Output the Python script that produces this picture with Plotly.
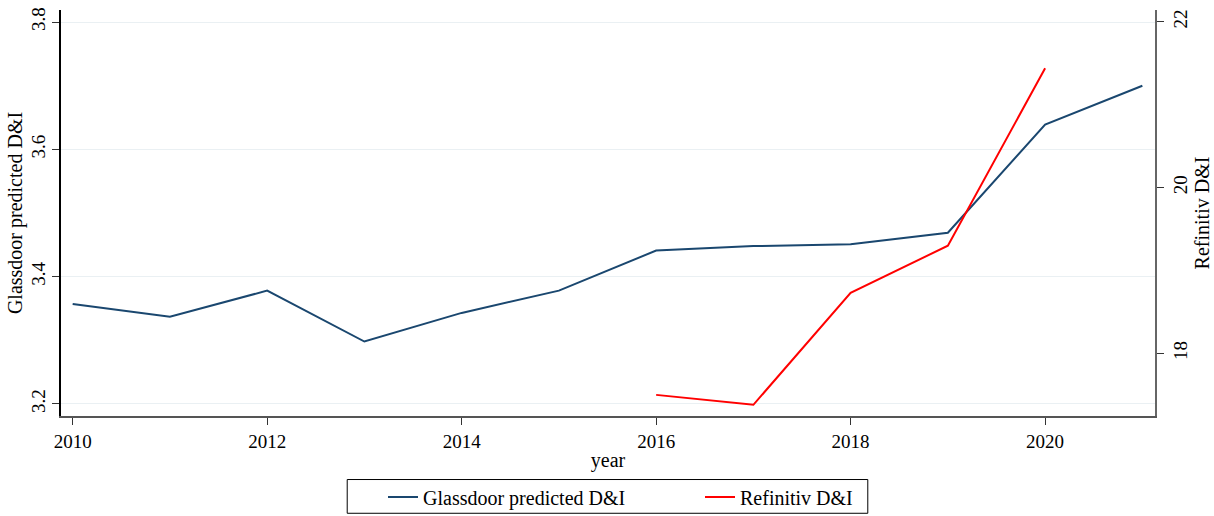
import plotly.graph_objects as go

years = [2010, 2011, 2012, 2013, 2014, 2015, 2016, 2017, 2018, 2019, 2020, 2021]
glassdoor = [3.357, 3.337, 3.378, 3.298, 3.343, 3.378, 3.441, 3.448, 3.451, 3.469, 3.639, 3.700]
ref_years = [2016, 2017, 2018, 2019, 2020]
refinitiv = [17.50, 17.38, 18.73, 19.30, 21.44]

left_ticks = [3.2, 3.4, 3.6, 3.8]
right_ticks = [18, 20, 22]
x_ticks = [2010, 2012, 2014, 2016, 2018, 2020]

FONT = "Liberation Serif"

fig = go.Figure()
fig.add_trace(go.Scatter(x=years, y=glassdoor, mode="lines", name="Glassdoor predicted D&I",
                         line=dict(color="#1a476f", width=2), legend="legend2", showlegend=True))
fig.add_trace(go.Scatter(x=ref_years, y=refinitiv, mode="lines", name="Refinitiv D&I",
                         line=dict(color="#ff0000", width=2), yaxis="y2", legend="legend3",
                         showlegend=True))

leg_common = dict(orientation="h", xanchor="left", xref="container",
                  y=19 / 516, yanchor="middle", yref="container",
                  borderwidth=0, bgcolor="rgba(0,0,0,0)", font=dict(size=20))

fig.update_layout(
    width=1214, height=516,
    margin=dict(l=61, r=56, t=7, b=100),
    paper_bgcolor="white", plot_bgcolor="white",
    font=dict(family=FONT, size=19, color="black"),
    showlegend=True,
    xaxis=dict(range=[2009.88, 2021.13], tickvals=x_ticks, ticks="outside", ticklen=7,
               tickcolor="#333", showline=True, linecolor="#555", linewidth=1.5,
               showgrid=False, zeroline=False,
               title=dict(text="year", standoff=2, font=dict(size=20))),
    yaxis=dict(range=[3.181, 3.819], tickvals=left_ticks, tickformat=".1f", tickangle=-90,
               ticks="outside", ticklen=7, tickcolor="#333", showline=True, linecolor="black",
               linewidth=1.5, showgrid=True, gridcolor="#eaf0f3", gridwidth=1.2, zeroline=False,
               title=dict(text="Glassdoor predicted D&I", standoff=0, font=dict(size=20))),
    yaxis2=dict(range=[17.245, 22.144], tickvals=right_ticks, tickangle=-90, overlaying="y",
                side="right", ticks="outside", ticklen=7, tickcolor="#333", showline=True,
                linecolor="#666", linewidth=1.5, showgrid=False, zeroline=False,
                title=dict(text="Refinitiv D&I", standoff=2, font=dict(size=20))),
    legend2=dict(x=383 / 1214, **leg_common),
    legend3=dict(x=700 / 1214, **leg_common),
)

# legend frame
fig.add_shape(type="rect", xref="paper", yref="paper",
              x0=(348 - 61) / 1097, x1=(870 - 61) / 1097,
              y0=-(480 - 416) / 409, y1=-(514 - 416) / 409,
              line=dict(color="black", width=1), fillcolor="rgba(0,0,0,0)", layer="below")

fig.write_html("out.html")
